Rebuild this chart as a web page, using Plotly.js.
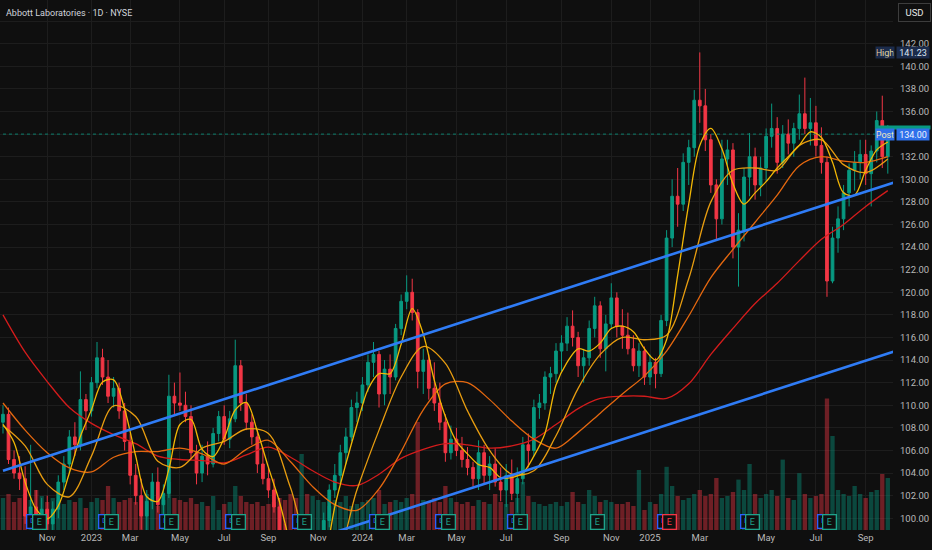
<!DOCTYPE html>
<html><head><meta charset="utf-8">
<script src="https://cdn.plot.ly/plotly-3.0.1.min.js"></script>
<style>html,body{margin:0;padding:0;background:#0f0f0f;}#chart{width:932px;height:550px;}</style>
</head><body><div id="chart"></div>
<script>
// ---- data (weekly-ish bars) ----
const dates = [
'2022-08-30','2022-09-07','2022-09-15','2022-09-23','2022-09-30','2022-10-07','2022-10-14','2022-10-24',
'2022-11-01','2022-11-09','2022-11-17','2022-11-25','2022-12-02','2022-12-12','2022-12-20','2022-12-28',
'2023-01-05','2023-01-13','2023-01-20','2023-01-27','2023-02-06','2023-02-14','2023-02-21','2023-03-01',
'2023-03-08','2023-03-15','2023-03-22','2023-03-30','2023-04-06','2023-04-13','2023-04-20','2023-04-28',
'2023-05-05','2023-05-12','2023-05-19','2023-05-30','2023-06-06','2023-06-14','2023-06-22','2023-06-30',
'2023-07-07','2023-07-14','2023-07-21','2023-07-31','2023-08-08','2023-08-15','2023-08-23','2023-08-31',
'2023-09-06','2023-09-13','2023-09-20','2023-09-27','2023-10-03','2023-10-10','2023-10-17','2023-10-24',
'2023-10-31','2023-11-07','2023-11-14','2023-11-21','2023-11-29','2023-12-06','2023-12-14','2023-12-21',
'2023-12-28','2024-01-05','2024-01-12','2024-01-19','2024-01-26','2024-02-02','2024-02-09','2024-02-16',
'2024-02-26','2024-03-04','2024-03-11','2024-03-18','2024-03-25','2024-04-01','2024-04-08','2024-04-15',
'2024-04-22','2024-04-29','2024-05-03','2024-05-10','2024-05-17','2024-05-24','2024-05-31','2024-06-07',
'2024-06-14','2024-06-20','2024-06-27','2024-07-03','2024-07-10','2024-07-16','2024-07-22','2024-07-29',
'2024-08-05','2024-08-12','2024-08-19','2024-08-26','2024-08-30','2024-09-05','2024-09-12','2024-09-19',
'2024-09-26','2024-10-03','2024-10-10','2024-10-17','2024-10-24','2024-10-31','2024-11-08','2024-11-15',
'2024-11-22','2024-12-02','2024-12-09','2024-12-17','2024-12-24','2025-01-02','2025-01-08','2025-01-15',
'2025-01-22','2025-01-29','2025-02-05','2025-02-12','2025-02-18','2025-02-25','2025-03-04','2025-03-10',
'2025-03-14','2025-03-19','2025-03-24','2025-03-28','2025-04-03','2025-04-08','2025-04-14','2025-04-17',
'2025-04-24','2025-04-29','2025-05-06','2025-05-12','2025-05-19','2025-05-23','2025-05-30','2025-06-06',
'2025-06-13','2025-06-18','2025-06-26','2025-07-03','2025-07-11','2025-07-17','2025-07-24','2025-07-31',
'2025-08-07','2025-08-14','2025-08-21','2025-08-27','2025-09-03','2025-09-10','2025-09-16','2025-09-23',
'2025-09-29'];
const futureDate = '2025-10-03';

const openP = [
108.5,109.2,105.2,104.0,103.5,100.2,101.0,98.5,
100.8,99.5,100.8,103.2,104.8,107.2,106.5,110.5,
109.5,112.0,114.2,112.5,110.8,111.5,109.5,106.8,
103.8,102.0,100.2,101.5,103.2,101.2,102.2,110.8,
110.2,110.0,109.0,105.8,104.0,105.5,104.8,107.5,
109.0,107.0,108.8,113.5,110.2,108.5,107.2,104.8,
103.5,102.5,101.0,98.8,96.8,93.8,92.5,93.5,
90.8,94.8,97.8,99.8,102.5,103.8,105.8,107.2,
109.8,110.2,111.8,113.8,114.5,111.0,113.2,112.5,
116.8,119.2,120.0,118.2,113.0,114.0,111.5,110.2,
108.5,105.8,107.0,106.0,105.2,104.5,103.5,105.8,
103.8,104.8,103.2,102.5,103.8,102.2,103.5,106.5,
106.0,109.8,110.2,112.5,112.8,114.8,115.5,117.0,
116.0,113.5,114.2,116.8,118.8,115.0,117.2,119.5,
117.0,116.2,115.0,113.5,114.8,112.5,113.8,112.8,
117.5,124.8,128.5,127.8,131.5,132.8,137.0,136.5,
133.5,129.5,126.5,131.8,132.6,124.0,125.5,130.2,
132.0,129.5,131.0,133.8,134.5,131.5,134.0,133.2,
134.5,135.8,134.5,135.0,133.0,131.5,121.0,124.8,
126.5,128.8,130.8,131.5,132.2,130.5,132.5,135.2,
132.0];
const highP = [
110.0,109.8,106.0,105.5,104.6,106.5,102.5,101.8,
102.0,101.5,103.8,105.5,107.8,108.5,113.0,111.0,
112.5,115.6,115.0,114.0,112.5,112.0,110.2,107.5,
104.8,103.5,102.5,104.0,104.5,103.0,112.7,112.0,
112.9,111.2,110.0,106.5,106.5,106.8,108.0,109.5,
110.0,109.5,115.8,114.0,111.0,109.2,107.8,106.2,
104.5,103.5,101.8,99.5,97.5,95.0,95.5,94.5,
95.5,98.5,100.5,103.0,104.8,106.5,108.0,110.5,
111.2,112.5,114.5,115.6,114.8,114.0,114.5,117.2,
119.8,121.5,121.2,118.5,115.0,114.5,113.8,112.0,
109.2,108.2,108.0,107.2,106.3,105.0,106.9,106.5,
105.5,106.2,104.5,104.8,105.2,104.5,107.2,107.5,
110.5,111.0,113.0,113.4,115.5,116.2,117.8,118.4,
116.5,115.0,117.5,119.6,119.2,118.0,120.8,120.0,
118.5,118.2,116.2,115.5,115.2,114.5,114.2,118.0,
125.5,130.0,131.0,132.3,133.5,137.9,141.23,138.0,
134.0,130.0,133.5,133.5,133.2,127.0,131.0,134.1,
132.8,132.0,134.5,136.7,135.5,134.8,135.3,135.0,
137.5,139.0,137.2,136.5,134.6,132.0,125.8,127.6,
129.5,131.4,132.5,133.5,133.5,133.0,136.0,137.4,
134.8];
const lowP = [
107.5,104.8,103.5,102.5,99.5,99.8,97.5,96.5,
98.5,98.0,100.0,102.5,104.0,105.5,106.0,107.8,
109.0,111.5,111.8,110.2,109.8,108.8,106.0,103.0,
101.2,99.0,98.5,100.8,100.5,99.8,101.8,109.2,
109.5,108.5,105.2,103.0,103.2,103.8,104.5,106.8,
106.5,106.2,108.5,109.5,107.8,106.5,104.0,103.0,
101.8,100.5,98.0,96.0,93.0,91.5,91.0,89.7,
90.2,94.0,97.0,99.2,101.8,103.0,104.8,106.8,
108.5,109.5,111.2,112.5,109.8,110.0,111.0,112.2,
116.2,118.5,117.5,111.5,111.0,110.5,109.5,107.8,
105.0,105.2,105.5,104.5,103.8,102.8,102.5,103.0,
102.5,102.8,101.5,101.0,101.6,100.5,103.0,104.5,
105.5,108.8,109.6,111.0,112.0,113.0,114.8,115.2,
112.5,112.0,113.5,116.0,114.2,113.0,116.8,116.0,
115.0,114.5,113.0,112.5,111.8,111.8,111.5,112.5,
117.0,124.0,125.8,127.2,129.5,132.0,135.0,132.5,
128.8,124.6,126.0,129.5,123.0,120.5,124.5,128.5,
128.2,128.5,129.8,132.8,130.5,131.0,132.2,132.0,
133.5,134.0,133.0,132.0,130.5,119.6,120.8,123.5,
125.5,127.6,129.0,130.0,129.5,127.6,131.5,131.0,
130.5];
const closeP = [
109.2,105.2,104.0,103.5,100.2,101.0,98.5,100.8,
99.5,100.8,103.2,104.8,107.2,106.5,110.5,109.5,
112.0,114.2,112.5,110.8,111.5,109.5,106.8,103.8,
102.0,100.2,101.5,103.2,101.2,102.2,110.8,110.2,
110.0,109.0,105.8,104.0,105.5,104.8,107.5,109.0,
107.0,108.8,113.5,110.2,108.5,107.2,104.8,103.5,
102.5,101.0,98.8,96.8,93.8,92.5,93.5,90.8,
94.8,97.8,99.8,102.5,103.8,105.8,107.2,109.8,
110.2,111.8,113.8,114.5,111.0,113.2,112.5,116.8,
119.2,120.0,118.2,113.0,114.0,111.5,110.2,108.5,
105.8,107.0,106.0,105.2,104.5,103.5,105.8,103.8,
104.8,103.2,102.5,103.8,102.2,103.5,106.5,106.0,
109.8,110.2,112.5,112.8,114.8,115.5,117.0,116.0,
113.5,114.2,116.8,118.8,115.0,117.2,119.5,117.0,
116.2,115.0,113.5,114.8,112.5,113.8,112.8,117.5,
124.8,128.5,127.8,131.5,132.8,137.0,136.5,133.5,
129.5,126.5,131.8,132.6,124.0,125.5,130.2,132.0,
129.5,131.0,133.8,134.5,131.5,134.0,133.2,134.5,
135.8,134.5,135.0,133.0,131.5,121.0,124.8,126.5,
128.8,130.8,131.5,132.2,130.5,132.5,135.2,132.0,
134.0];
// volume, millions of shares
const volumeM = [
8,9,7,8,9,7.5,10,8.5,
7,8,7.5,6.5,7.5,7,8,5.5,
7,8,7.5,11,8,7,7.5,8,
7,8.5,9,7.5,6,7.5,12,8,
7.5,7,8,6.5,7,6,8.5,5,
6.5,7,11,8.5,7,6.5,7,6,
6.5,7,8,7.5,9,8,19,9,
8.5,7.5,7,6,7.5,7,8.5,6,
6.5,7,7.5,8,10,6.5,7,7.5,
7,8,9,27,7.5,7,8,7,
11,8,7,6.5,7,6,7.5,7,
6.5,9,7,6.5,7,8,12,8.5,
7,6.5,6,6.5,7,6,7,9.5,
7,6.5,10,8.5,7,7.5,7,6.5,
6.5,7,6,15,5,7,6.5,9,
15.8,11,8.5,7.5,8,9,10,8.5,
9,13,8,8.5,9.5,12.6,10,16.5,
9,8,9,10,8.5,17.6,8,7.5,
14.2,9,8,8.5,9,32.9,23.5,10,
9,8.5,11,9,8,9.5,10,14,
13];
// moving averages (MA20 at every 2nd bar, others every 4th bar)
const ma20 = [
108.3,106.7,103.2,100.8,99.95,101.1,104.0,107.25,109.6,112.05,
112.25,109.65,105.5,101.9,101.5,104.35,108.3,108.75,106.1,105.45,
107.1,109.6,110.25,107.7,104.5,101.45,97.6,94.15,92.9,95.8,
101.0,104.8,108.25,111.4,112.8,112.8,115.4,118.55,116.3,112.2,
109.0,106.8,105.7,104.75,104.5,103.6,103.6,104.0,105.5,107.5,
111.8,113.8,115.0,114.8,115.5,116.8,117.0,116.5,115.0,114.0,
115.8,121.5,127.8,133.0,134.5,132.7,129.6,127.8,128.8,129.8,
131.0,132.0,133.0,134.2,133.7,131.5,128.8,128.6,130.8,132.6,
133.3];
const ma50 = [
108.2,106.4,103.0,101.9,105.5,109.95,109.0,105.05,104.5,106.2,
106.8,107.9,107.5,102.7,96.8,96.6,102.5,107.8,112.5,115.2,
113.7,109.5,106.0,103.9,104.2,107.3,111.5,114.5,116.0,115.8,
116.2,121.2,128.0,130.8,131.0,130.8,133.0,133.5,131.3,130.6,
131.8];
const ma100 = [
110.2,107.8,105.8,104.45,104.1,105.4,105.9,105.9,106.2,105.7,
104.8,106.1,106.9,105.0,102.8,101.2,100.7,102.6,105.9,109.6,
111.9,112.0,110.5,108.6,107.0,106.2,107.6,109.3,111.0,112.6,
114.8,117.9,121.3,123.8,126.2,128.6,131.2,132.0,131.6,131.5,
132.0];
const ma200 = [
118.0,114.7,112.1,109.8,108.4,107.4,106.6,105.5,105.2,105.1,
104.9,105.6,106.3,105.4,104.2,103.2,102.9,103.9,105.3,106.1,
106.6,106.5,106.2,106.4,107.0,108.3,109.7,110.6,110.8,110.8,
110.6,111.9,114.5,116.8,119.0,120.8,122.8,124.7,126.0,127.6,
129.0];
// parallel channel trendlines (start / end prices)
const upperStartDate = '2022-08-30';
const upperPrices = [104.2, 129.7];
const lowerStartDate = '2023-10-24';
const lowerPrices = [97.97, 114.74];
// axis labels
const tickMonths = ['2022-11','2023-01','2023-03','2023-05','2023-07','2023-09','2023-11','2024-01','2024-03','2024-05','2024-07','2024-09','2024-11','2025-01','2025-03','2025-05','2025-07','2025-09'];
const tickLabels = ['Nov','2023','Mar','May','Jul','Sep','Nov','2024','Mar','May','Jul','Sep','Nov','2025','Mar','May','Jul','Sep'];
const priceTicks = [100,102,104,106,108,110,112,114,116,118,120,122,124,126,128,130,132,136,138,140,142];
// events
const earningsDates = ['2022-10-14','2023-01-27','2023-04-20','2023-07-21','2023-10-17','2024-01-26','2024-04-22','2024-07-16','2024-10-17','2025-01-22','2025-04-17','2025-07-17'];
const earningsMiss = ['2025-01-22'];
const dividendDates = ['2022-10-14','2023-01-27','2023-04-20','2023-07-21','2023-10-17','2024-01-26','2024-04-22','2024-07-16','2025-01-22','2025-04-17','2025-07-17'];

// ---- build ----
const TEAL = '#089981', RED = '#f23645';
const cats = dates.concat([futureDate]);
const everyK = (arr, k) => arr.filter((_, i) => i % k === 0);
const volColors = closeP.map((c, i) => c >= openP[i] ? 'rgba(8,153,129,0.42)' : 'rgba(242,54,69,0.42)');
const lastPrice = closeP[closeP.length - 1];
const highValue = Math.max.apply(null, highP);
const tickvals = tickMonths.map(m => dates.find(d => d.startsWith(m)));

const maLine = (x, y, color) => ({type:'scatter', mode:'lines', x:x, y:y, xaxis:'x', yaxis:'y2',
  line:{color:color, width:1.3, shape:'spline', smoothing:0.9}, hoverinfo:'skip'});

const traces = [
  {type:'bar', x:dates, y:volumeM, xaxis:'x', yaxis:'y', marker:{color:volColors, line:{width:0}}, hoverinfo:'skip'},
  {type:'candlestick', x:dates, open:openP, high:highP, low:lowP, close:closeP, xaxis:'x', yaxis:'y2',
   increasing:{line:{color:TEAL, width:1}, fillcolor:TEAL},
   decreasing:{line:{color:RED, width:1}, fillcolor:RED},
   whiskerwidth:0, hoverinfo:'skip'},
  {type:'scatter', mode:'lines', x:[dates[0], futureDate], y:[lastPrice, lastPrice], xaxis:'x', yaxis:'y2',
   line:{color:'#0b7f6c', width:1, dash:'dot'}, hoverinfo:'skip'},
  maLine(everyK(dates,4), ma200, '#d41c1c'),
  maLine(everyK(dates,4), ma100, '#e5680f'),
  maLine(everyK(dates,4), ma50, '#e89d10'),
  maLine(everyK(dates,2), ma20, '#f2b705'),
  {type:'scatter', mode:'lines', x:[upperStartDate, futureDate], y:upperPrices, xaxis:'x', yaxis:'y2',
   line:{color:'#2f7cf6', width:2.6}, hoverinfo:'skip'},
  {type:'scatter', mode:'lines', x:[lowerStartDate, futureDate], y:lowerPrices, xaxis:'x', yaxis:'y2',
   line:{color:'#2f7cf6', width:2.6}, hoverinfo:'skip'}
];

const ann = [];
ann.push({xref:'paper', yref:'paper', x:0, y:1, xanchor:'left', yanchor:'top', xshift:4, yshift:-6,
  text:'Abbott Laboratories · 1D · NYSE', showarrow:false, font:{size:9, color:'#d1d4dc'}});
ann.push({xref:'paper', yref:'paper', x:1, y:1, xanchor:'left', yanchor:'top', xshift:5, yshift:-3,
  text:'USD', showarrow:false, width:28, height:14, borderpad:1.5, bordercolor:'#3d3d3d', borderwidth:1,
  bgcolor:'#0f0f0f', font:{size:9.5, color:'#e6e6e6'}});
dividendDates.forEach(d => ann.push({xref:'x', yref:'paper', x:d, y:0, yanchor:'middle', yshift:8.5, xshift:-3,
  text:'D', showarrow:false, width:10, height:11, borderpad:0.5, bordercolor:'#2962ff', borderwidth:1.3,
  bgcolor:'#0f0f0f', font:{size:7, color:'#2962ff'}}));
earningsDates.forEach(d => {
  const c = earningsMiss.indexOf(d) >= 0 ? RED : '#1fa38b';
  ann.push({xref:'x', yref:'paper', x:d, y:0, yanchor:'middle', yshift:8.5, xshift:3,
    text:'E', showarrow:false, width:11, height:12, borderpad:0.5, bordercolor:c, borderwidth:1.3,
    bgcolor:'#0f0f0f', font:{size:9, color:c}});
});
// right-side price tags
const tag = (text, y, side, bg, fc, w) => ({xref:'paper', yref:'y2', x:1, y:y,
  xanchor: side, xshift: side === 'right' ? 2 : 3, yanchor:'middle',
  text:text, showarrow:false, width:w, height:10, borderpad:0.5, bgcolor:bg, font:{size:9, color:fc}});
ann.push(tag('High', highValue, 'right', '#1b2b4b', '#e4d9a6', 17));
ann.push(tag(highValue.toFixed(2), highValue, 'left', '#1b2b4b', '#dfe5f0', 31));
ann.push({xref:'paper', yref:'y2', x:1, y:lastPrice, xanchor:'left', xshift:-17, yshift:7, yanchor:'middle',
  text:' ', showarrow:false, width:52, height:2, borderpad:0.5, bgcolor:TEAL, font:{size:2}});
ann.push(tag('Post', lastPrice, 'right', '#2f70ea', '#f2e8b8', 17));
ann.push(tag(lastPrice.toFixed(2), lastPrice, 'left', '#2f70ea', '#eef3ff', 31));

const layout = {
  width:932, height:550,
  margin:{l:0, r:39, t:0, b:20, pad:0},
  paper_bgcolor:'#0f0f0f', plot_bgcolor:'#0f0f0f',
  showlegend:false, bargap:0.22,
  font:{family:'Roboto, "Noto Sans", sans-serif', size:9, color:'#b8b8b8'},
  xaxis:{type:'category', categoryorder:'array', categoryarray:cats, range:[-0.54, 160.94],
    rangeslider:{visible:false}, showgrid:true, gridcolor:'#1d1d1d', gridwidth:1, zeroline:false,
    showline:false, ticks:'', tickmode:'array', tickvals:tickvals, ticktext:tickLabels,
    tickfont:{size:9.5, color:'#b8b8b8'}, fixedrange:true},
  yaxis:{range:[0, 132.5], visible:false, showgrid:false, zeroline:false, fixedrange:true},
  yaxis2:{overlaying:'y', side:'right', anchor:'x', range:[98.96, 145.87],
    tickmode:'array', tickvals:priceTicks, tickformat:'.2f',
    showgrid:true, gridcolor:'#1d1d1d', gridwidth:1, zeroline:false, showline:false,
    minor:{tick0:100, dtick:2, showgrid:true, gridcolor:'#1d1d1d', gridwidth:1, ticks:''},
    ticks:'', ticklabelstandoff:6, tickfont:{size:9.5, color:'#b8b8b8'}, fixedrange:true},
  annotations:ann
};

Plotly.newPlot('chart', traces, layout, {staticPlot:true, displayModeBar:false});
</script>
</body></html>
